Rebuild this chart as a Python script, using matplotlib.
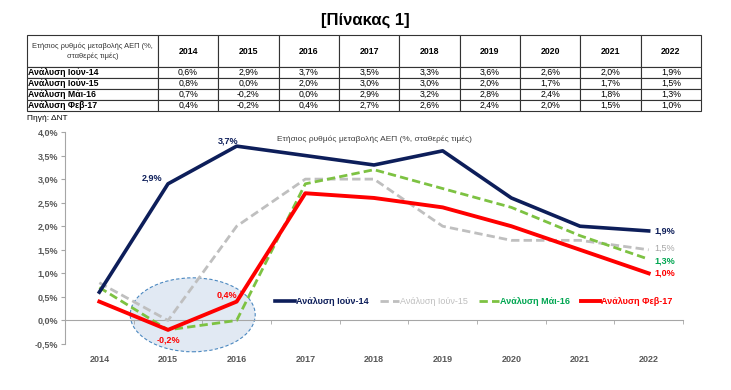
import matplotlib.pyplot as plt
from matplotlib.patches import Ellipse

plt.rcParams['font.family'] = ['Liberation Sans', 'DejaVu Sans']

years = ['2014', '2015', '2016', '2017', '2018', '2019', '2020', '2021', '2022']
series_names = ['Ανάλυση Ιούν-14', 'Ανάλυση Ιούν-15', 'Ανάλυση Μάι-16', 'Ανάλυση Φεβ-17']
jun14 = [0.6, 2.9, 3.7, 3.5, 3.3, 3.6, 2.6, 2.0, 1.9]
jun15 = [0.8, 0.0, 2.0, 3.0, 3.0, 2.0, 1.7, 1.7, 1.5]
may16 = [0.7, -0.2, 0.0, 2.9, 3.2, 2.8, 2.4, 1.8, 1.3]
feb17 = [0.4, -0.2, 0.4, 2.7, 2.6, 2.4, 2.0, 1.5, 1.0]
header_label = 'Ετήσιος ρυθμός μεταβολής ΑΕΠ (%,\nσταθερές τιμές)'
chart_title = 'Ετήσιος ρυθμός μεταβολής ΑΕΠ (%, σταθερές τιμές)'
yticks = [-0.5, 0.0, 0.5, 1.0, 1.5, 2.0, 2.5, 3.0, 3.5, 4.0]


def pct(v):
    return f"{v:.1f}%".replace('.', ',')


W, H = 731, 390
fig = plt.figure(figsize=(W / 100, H / 100), dpi=100)

# title
fig.text(365 / W, 1 - 20 / H, '[Πίνακας 1]', ha='center', va='center',
         fontsize=12, fontweight='bold')

# table
tax = fig.add_axes([27 / W, 1 - 111 / H, (701 - 27) / W, (111 - 35) / H])
tax.axis('off')
all_series = [jun14, jun15, may16, feb17]
cells = [[header_label] + years]
for name, vals in zip(series_names, all_series):
    cells.append([name] + [pct(v) for v in vals])
tbl = tax.table(cellText=cells, bbox=[0, 0, 1, 1], cellLoc='center')
tbl.auto_set_font_size(False)
col_w = [131] + [60.4] * len(years)
row_h = [32, 11, 11, 11, 11]
for (r, c), cell in tbl.get_celld().items():
    cell.set_width(col_w[c])
    cell.set_height(row_h[r])
    cell.set_linewidth(0.8)
    cell.set_edgecolor('#333333')
    txt = cell.get_text()
    txt.set_fontsize(6.3)
    if r == 0 and c > 0:
        txt.set_fontweight('bold')
    if r > 0 and c == 0:
        txt.set_fontweight('bold')
        txt.set_ha('left')
        cell.PAD = 0.01
    if r == 0 and c == 0:
        txt.set_fontsize(5.4)
        txt.set_color('#333333')
        txt.set_linespacing(1.5)

fig.text(27 / W, 1 - 118 / H, 'Πηγή: ΔΝΤ', ha='left', va='center', fontsize=6)

# chart
ax = fig.add_axes([65 / W, 1 - 344 / H, (683 - 65) / W, (344 - 132) / H])
x = list(range(len(years)))

ell = Ellipse((1.36, 0.12), 1.82, 1.57, facecolor='#DCE6F2', edgecolor='#2E75B6',
              linestyle=(0, (3, 2)), linewidth=0.8, alpha=0.85, zorder=1, clip_on=False)
ax.add_patch(ell)

navy = '#0D1E5A'
gray = '#BFBFBF'
green = '#7DC242'
red = '#FF0000'
ax.plot(x, jun14, color=navy, linewidth=2.6, label=series_names[0], zorder=5)
ax.plot(x, jun15, color=gray, linewidth=2.0, linestyle=(0, (3, 1.5)), label=series_names[1], zorder=3)
ax.plot(x, may16, color=green, linewidth=2.0, linestyle=(0, (3, 1.5)), label=series_names[2], zorder=4)
ax.plot(x, feb17, color=red, linewidth=2.8, label=series_names[3], zorder=6)

ax.set_xlim(-0.5, len(years) - 0.5)
ax.set_ylim(-0.5, 4.0)
ax.set_yticks(yticks)
ax.set_yticklabels([pct(v) for v in yticks], fontsize=6.5, fontweight='bold', color='#595959')

ax.spines['top'].set_visible(False)
ax.spines['right'].set_visible(False)
ax.spines['left'].set_color('#A6A6A6')
ax.spines['bottom'].set_position(('data', 0))
ax.spines['bottom'].set_color('#A6A6A6')
ax.spines['bottom'].set_zorder(2)
ax.set_xticks(x)
ax.set_xticklabels(years, fontsize=6.5, fontweight='bold', color='#595959')
ax.set_xticks([i + 0.5 for i in x], minor=True)
ax.tick_params(axis='x', which='major', length=0, pad=25)
ax.tick_params(axis='x', which='minor', length=3, color='#A6A6A6')
ax.tick_params(axis='y', length=3, color='#A6A6A6', pad=2)

ax.text(0.5, 0.965, chart_title, transform=ax.transAxes, ha='center', va='center',
        fontsize=6, color='#404040')

# data labels
lab = dict(fontsize=6.5, fontweight='bold', va='center')
ax.annotate(pct(jun14[1]), (1, jun14[1]), xytext=(-4, 4), textcoords='offset points',
            ha='right', color=navy, **lab)
ax.annotate(pct(jun14[2]), (2, jun14[2]), xytext=(-6, 4), textcoords='offset points',
            ha='center', color=navy, **lab)
ax.annotate(pct(jun14[8]), (8, jun14[8]), xytext=(4, 0), textcoords='offset points',
            ha='left', color=navy, **lab)
ax.annotate(pct(jun15[8]), (8, jun15[8]), xytext=(4, 1), textcoords='offset points',
            ha='left', color='#A6A6A6', fontsize=6.5, va='center')
ax.annotate(pct(may16[8]), (8, may16[8]), xytext=(4, -1), textcoords='offset points',
            ha='left', color='#00A651', **lab)
ax.annotate(pct(feb17[8]), (8, feb17[8]), xytext=(4, 0), textcoords='offset points',
            ha='left', color=red, **lab)
ax.annotate(pct(feb17[2]), (2, feb17[2]), xytext=(-7, 5), textcoords='offset points',
            ha='center', color=red, **lab)
ax.annotate(pct(feb17[1]), (1, feb17[1]), xytext=(0, -7), textcoords='offset points',
            ha='center', color=red, **lab)

leg = ax.legend(loc='center', bbox_to_anchor=(474 / W, 1 - 302 / H), bbox_transform=fig.transFigure,
                ncol=4, frameon=False, fontsize=6.5, handlelength=2.2, handletextpad=0.1,
                columnspacing=1.2)
for t, ln in zip(leg.get_texts(), leg.get_lines()):
    t.set_color(ln.get_color())
    if ln.get_color() != gray:
        t.set_fontweight('bold')
leg.get_texts()[2].set_color('#00A651')

fig.savefig('out.png', dpi=100)
